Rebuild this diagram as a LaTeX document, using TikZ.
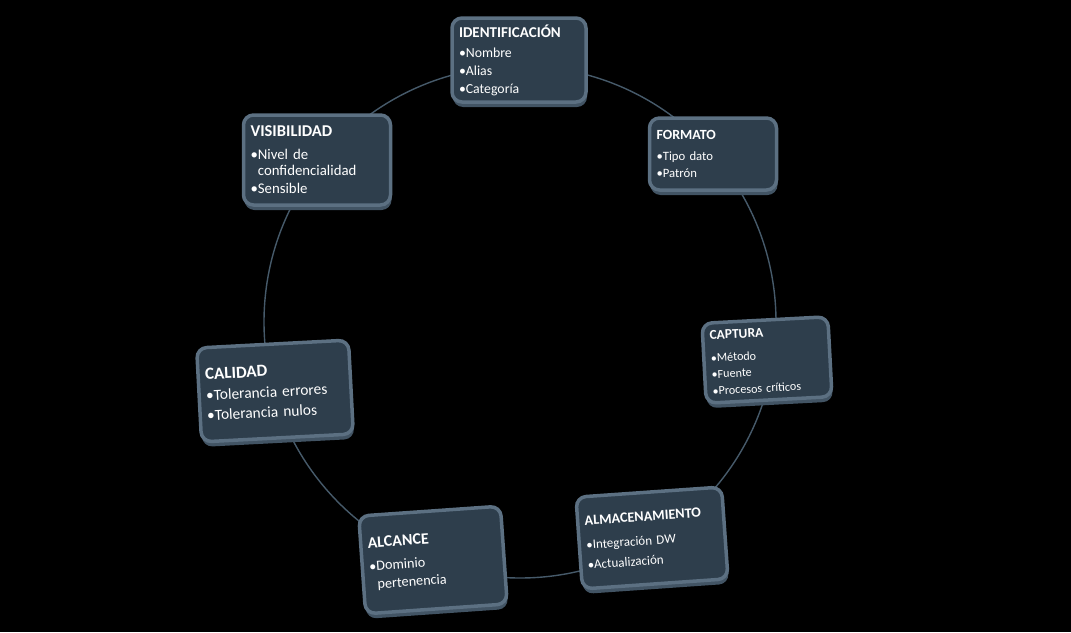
\documentclass[tikz,border=0pt]{standalone}
\usepackage{fontspec}
\setmainfont{Carlito}
\usetikzlibrary{shadows}
\definecolor{face}{RGB}{46,62,76}
\definecolor{bevel}{RGB}{92,112,130}
\definecolor{beveldk}{RGB}{66,84,100}
\definecolor{ring}{RGB}{70,90,106}
\tikzset{
  card/.style={rounded corners=10pt, fill=face, draw=bevel, line width=3.5pt,
    align=left, text=white, inner xsep=7pt, inner ysep=4pt, anchor=center,
    drop shadow={shadow xshift=1pt, shadow yshift=-5pt, fill=beveldk, opacity=1}},
  ringline/.style={draw=ring, line width=1.4pt}
}
\newcommand{\bul}{•}
\newcommand{\ttl}[2]{{\fontsize{#1}{#1}\selectfont\bfseries #2}}
\begin{document}
\begin{tikzpicture}[x=1pt,y=-1pt]
\fill[black] (0,0) rectangle (1071,632);
\useasboundingbox (0,0) rectangle (1071,632);
\coordinate (ctr) at (520,322);
\draw[ringline] (ctr) circle[radius=256];

\node[card, text width=120pt, minimum height=84pt, font=\fontsize{13.8}{18}\selectfont] (ident) at (519,60)
  {\ttl{15}{IDENTIFICACIÓN}\\[2pt]\bul Nombre\\\bul Alias\\\bul Categoría};
\node[card, text width=133pt, minimum height=90pt, font=\fontsize{14.8}{16.5}\selectfont] (visib) at (317,160)
  {\ttl{16.5}{VISIBILIDAD}\\[6pt]\bul Nivel de\\\hphantom{\bul}confidencialidad\\[1.5pt]\bul Sensible};
\node[card, text width=113pt, minimum height=72pt, font=\fontsize{12.7}{17}\selectfont] (formato) at (713,154)
  {\ttl{14}{FORMATO}\\[4pt]\bul Tipo dato\\\bul Patrón};
\node[card, text width=138pt, minimum height=94pt, rotate=3, font=\fontsize{15.4}{20}\selectfont] (calidad) at (275,391)
  {\ttl{17}{CALIDAD}\\[1pt]\bul Tolerancia errores\\\bul Tolerancia nulos};
\node[card, text width=112pt, minimum height=80pt, rotate=3, font=\fontsize{12.1}{16.5}\selectfont] (captura) at (767,360)
  {\ttl{13.5}{CAPTURA}\\[6pt]\bul Método\\\bul Fuente\\\bul Procesos críticos};
\node[card, text width=132pt, minimum height=92pt, rotate=4, font=\fontsize{13}{20}\selectfont] (almac) at (652,538)
  {\ttl{14.2}{ALMACENAMIENTO}\\[4pt]\bul Integración DW\\\bul Actualización};
\node[card, text width=128pt, minimum height=98pt, rotate=4, font=\fontsize{14.2}{18}\selectfont] (alcance) at (433,560)
  {\ttl{16}{ALCANCE}\\[5pt]\bul Dominio\\\hphantom{\bul}pertenencia};
\end{tikzpicture}
\end{document}
